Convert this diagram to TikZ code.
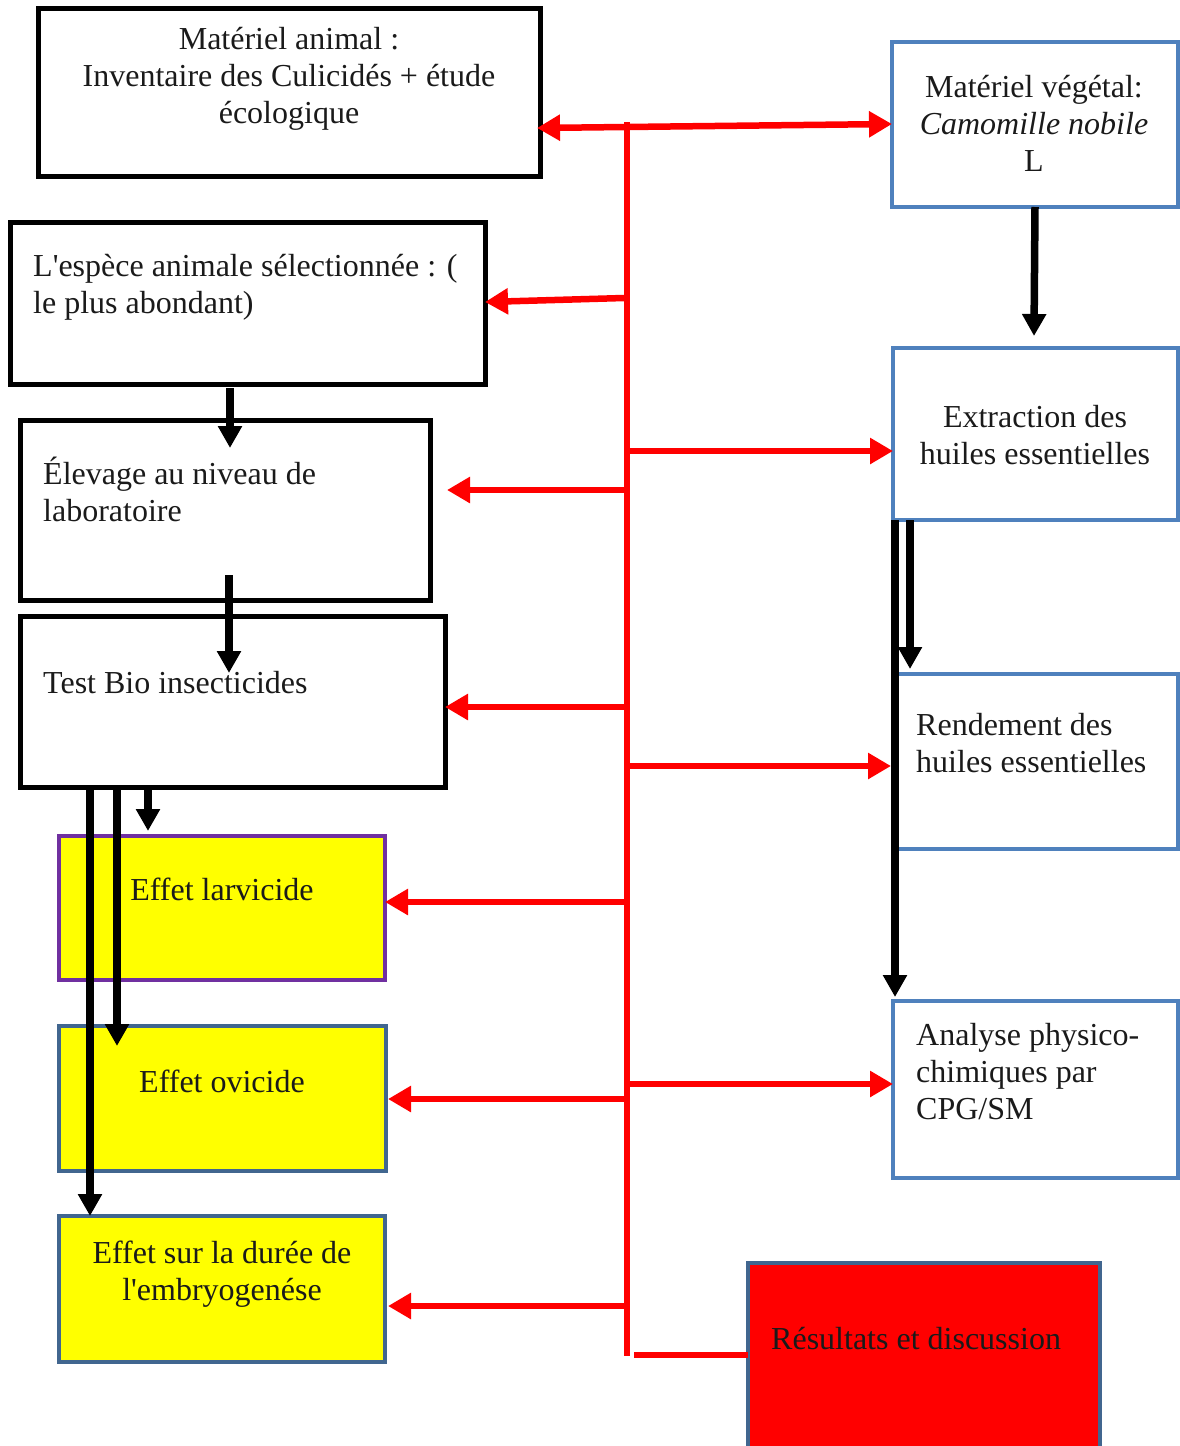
\documentclass[tikz,border=0pt]{standalone}
\usepackage{fontspec}
\setmainfont{Liberation Serif}[Ligatures=TeXOff]
\usetikzlibrary{arrows.meta}
\definecolor{blueb}{HTML}{4F81BD}
\definecolor{darkb}{HTML}{41668F}
\definecolor{purp}{HTML}{7030A0}
\definecolor{txt}{HTML}{1A1A1A}
\definecolor{yel}{HTML}{FFFF00}
\begin{document}
\begin{tikzpicture}[x=1pt,y=-1pt,
  box/.style={rectangle, inner sep=0pt, outer sep=0pt, anchor=north west},
  blackbox/.style={box, draw=black, line width=5pt},
  bluebox/.style={box, draw=blueb, line width=4.5pt},
  yelbox/.style={box, draw=darkb, fill=yel, line width=3.5pt},
  lbl/.style={inner sep=0pt, text=txt, font=\fontsize{32}{37}\selectfont},
  redline/.style={draw=red, line width=6.5pt},
  redarrow/.style={redline, -{Triangle[width=25pt,length=23pt]}},
  blackarrow/.style={draw=black, line width=7.5pt, -{Triangle[width=23pt,length=22pt]}}
]
\useasboundingbox (0,0) rectangle (1180,1446);

% boxes
\node[blackbox, minimum width=502pt, minimum height=168pt] (A) at (38,8) {};
\node[blackbox, minimum width=475pt, minimum height=162pt] (B) at (10,222) {};
\node[blackbox, minimum width=410pt, minimum height=180pt] (C) at (20,420) {};
\node[blackbox, minimum width=425pt, minimum height=171pt] (D) at (20,616) {};
\node[yelbox, draw=purp, minimum width=326pt, minimum height=144pt] (E) at (59,836) {};
\node[yelbox, minimum width=327pt, minimum height=145pt] (F) at (59,1026) {};
\node[yelbox, minimum width=326pt, minimum height=146pt] (G) at (59,1216) {};
\node[bluebox, minimum width=286pt, minimum height=165pt] (H) at (892,42) {};
\node[bluebox, minimum width=285pt, minimum height=172pt] (I) at (893,348) {};
\node[bluebox, minimum width=285pt, minimum height=175pt] (J) at (893,674) {};
\node[bluebox, minimum width=285pt, minimum height=177pt] (K) at (893,1001) {};
\node[box, draw=darkb, fill=red, line width=4.5pt, minimum width=352pt, minimum height=200pt] (L) at (748,1263) {};

% labels
\node[lbl, align=center] (tA) at (289,79) {Matériel animal :\\Inventaire des Culicidés + étude\\écologique};
\node[lbl, align=left, anchor=west] (tB) at (33,287) {L'espèce animale sélectionnée : (\\le plus abondant)};
\node[lbl, align=left, anchor=west] (tC) at (43,489) {Élevage au niveau de\\laboratoire};
\node[lbl, anchor=west] (tD) at (43,683) {Test Bio insecticides};
\node[lbl] (tE) at (222,889) {Effet larvicide};
\node[lbl] (tF) at (222,1081) {Effet ovicide};
\node[lbl, align=center] (tG) at (222,1274) {Effet sur la durée de\\l'embryogenése};
\node[lbl, align=center] (tH) at (1034,123) {Matériel végétal:\\\textit{Camomille nobile}\\L};
\node[lbl, align=center] (tI) at (1035,435) {Extraction des\\huiles essentielles};
\node[lbl, align=left, anchor=west] (tJ) at (916,743) {Rendement des\\huiles essentielles};
\node[lbl, align=left, anchor=west] (tK) at (916,1072) {Analyse physico-\\chimiques par\\CPG/SM};
\node[lbl, anchor=west] (tL) at (771,1339) {Résultats et discussion};

% red trunk
\coordinate (top) at (627,122);
\coordinate (bot) at (627,1356);
\draw[redline] (top) -- (bot);
\coordinate (r2) at (624,298);
\coordinate (r3) at (624,490);
\coordinate (r4) at (624,707);
\coordinate (r5) at (627,902);
\coordinate (r6) at (627,1099);
\coordinate (r7) at (627,1306);
\coordinate (s1) at (627,451);
\coordinate (s2) at (627,766);
\coordinate (s3) at (627,1084);
\coordinate (s4) at (634,1355);

\draw[redline, {Triangle[width=25pt,length=23pt]}-{Triangle[width=25pt,length=23pt]}]
  ([xshift=-3pt]A.east |- 0,128) -- (H.west |- 0,124);
\draw[redarrow] (r2) -- (B.east |- 0,302);
\draw[redarrow] (r3) -- ([xshift=17pt]C.east |- r3);
\draw[redarrow] (r4) -- (D.east |- r4);
\draw[redarrow] (r5) -- (E.east |- r5);
\draw[redarrow] (r6) -- ([xshift=2pt]F.east |- r6);
\draw[redarrow] (r7) -- ([xshift=3pt]G.east |- r7);
\draw[redarrow] (s1) -- (I.west |- s1);
\draw[redarrow] (s2) -- ([xshift=-2pt]J.west |- s2);
\draw[redarrow] (s3) -- (K.west |- s3);
\draw[redline] (s4) -- (L.west |- s4);

% black arrows
\draw[blackarrow] (H.south) -- (1034,336);
\draw[blackarrow] (230,388) -- (230,448);
\draw[blackarrow] (229,575) -- (229,673);
\draw[blackarrow] (148,787) -- (148,831);
\draw[blackarrow] (117,787) -- (117,1046);
\draw[blackarrow] (90,787) -- (90,1216);
\draw[blackarrow] (910,520) -- (910,669);
\draw[blackarrow] (895,520) -- (895,997);
\end{tikzpicture}
\end{document}
